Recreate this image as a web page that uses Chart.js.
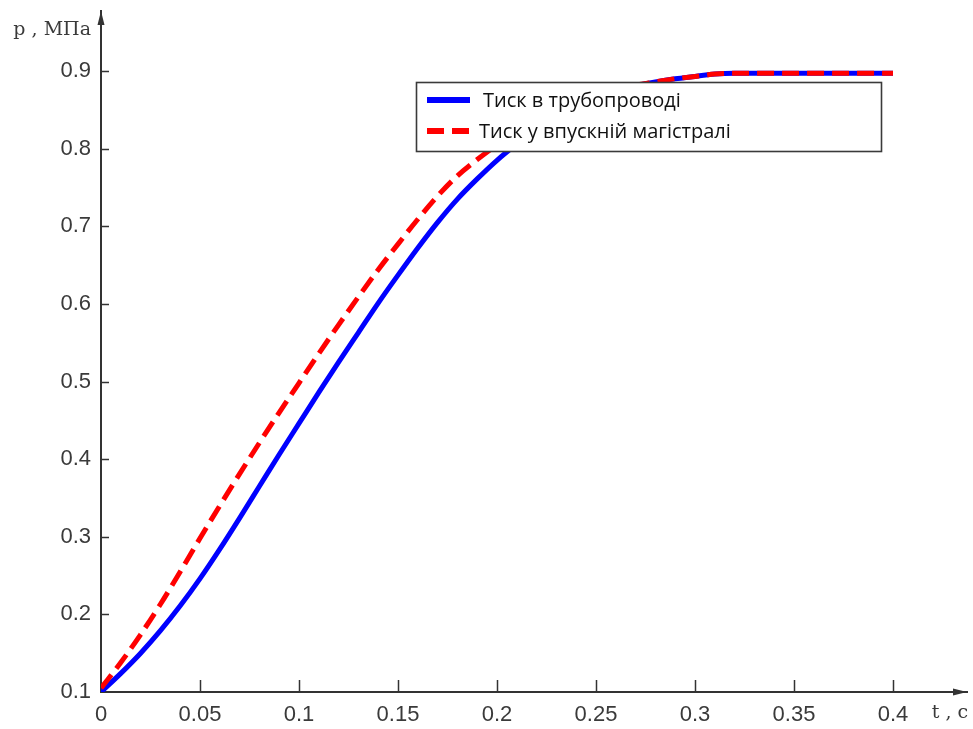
<!DOCTYPE html>
<html>
<head>
<meta charset="utf-8">
<script src="https://cdn.jsdelivr.net/npm/chart.js@4/dist/chart.umd.min.js"></script>
<style>
  html, body { margin: 0; padding: 0; background: #fff; }
  #wrap { width: 973px; height: 729px; position: relative; }
</style>
</head>
<body>
<div id="wrap"><canvas id="c" width="973" height="729"></canvas></div>
<script>
// ---- data ----
const timeValues = [0, 0.01, 0.02, 0.03, 0.04, 0.05, 0.06, 0.07, 0.08, 0.09, 0.10,
  0.11, 0.12, 0.13, 0.14, 0.15, 0.16, 0.17, 0.18, 0.19, 0.20,
  0.21, 0.22, 0.23, 0.24, 0.25, 0.26, 0.27, 0.28, 0.29, 0.30,
  0.31, 0.32, 0.33, 0.34, 0.35, 0.36, 0.37, 0.38, 0.39, 0.40];

const pipePressure = [0.100, 0.124, 0.150, 0.179, 0.211, 0.246, 0.284, 0.324, 0.365, 0.406, 0.446,
  0.486, 0.525, 0.563, 0.601, 0.637, 0.672, 0.705, 0.735, 0.761, 0.785,
  0.806, 0.825, 0.842, 0.856, 0.867, 0.875, 0.881, 0.886, 0.890, 0.893,
  0.896, 0.897, 0.897, 0.897, 0.897, 0.897, 0.897, 0.897, 0.897, 0.897];

const intakePressure = [0.105, 0.138, 0.174, 0.213, 0.255, 0.298, 0.340, 0.381, 0.421, 0.460, 0.498,
  0.536, 0.573, 0.609, 0.644, 0.677, 0.709, 0.739, 0.765, 0.786, 0.805,
  0.822, 0.837, 0.850, 0.861, 0.870, 0.877, 0.882, 0.886, 0.890, 0.893,
  0.896, 0.897, 0.897, 0.897, 0.897, 0.897, 0.897, 0.897, 0.897, 0.897];

const xTickValues = [0, 0.05, 0.1, 0.15, 0.2, 0.25, 0.3, 0.35, 0.4];
const xTickLabels = ['0', '0.05', '0.1', '0.15', '0.2', '0.25', '0.3', '0.35', '0.4'];
const yTickValues = [0.1, 0.2, 0.3, 0.4, 0.5, 0.6, 0.7, 0.8, 0.9];
const yTickLabels = ['0.1', '0.2', '0.3', '0.4', '0.5', '0.6', '0.7', '0.8', '0.9'];

const seriesNames = ['Тиск в трубопроводі', 'Тиск у впускній магістралі'];
const xAxisTitle = 't , с';
const yAxisTitle = 'p , МПа';

// axis extents (arrow tips) and title anchor positions, in data units
const xAxisEnd = 0.43737;
const xTitleAt = 0.42879;
const yAxisEnd = 0.9773;
const yTitleAt = 0.9528;

// ---- styling ----
const AXIS_COLOR = '#333333';
const TICK_TEXT = '#3a3a3a';
const BLUE = '#0000ff';
const RED = '#ff0000';

const toPoints = (vals) => timeValues.map((t, i) => ({ x: t, y: vals[i] }));

const axisDecor = {
  id: 'axisDecor',
  afterDraw(chart) {
    const { ctx, chartArea: a, scales: { x, y } } = chart;
    ctx.save();
    ctx.strokeStyle = AXIS_COLOR;
    ctx.fillStyle = AXIS_COLOR;
    ctx.lineWidth = 1.5;
    xTickValues.forEach(v => {
      if (v === 0) return;
      const px = Math.round(x.getPixelForValue(v)) + 0.5;
      ctx.beginPath();
      ctx.moveTo(px, a.bottom);
      ctx.lineTo(px, a.bottom - 12);
      ctx.stroke();
    });
    yTickValues.forEach(v => {
      if (v === 0.1) return;
      const py = Math.round(y.getPixelForValue(v)) + 0.5;
      ctx.beginPath();
      ctx.moveTo(a.left, py);
      ctx.lineTo(a.left + 8, py);
      ctx.stroke();
    });
    const xe = x.getPixelForValue(xAxisEnd);
    const yb = y.getPixelForValue(0.1);
    ctx.beginPath();
    ctx.moveTo(xe, yb);
    ctx.lineTo(xe - 14, yb - 3.5);
    ctx.lineTo(xe - 14, yb + 3.5);
    ctx.closePath();
    ctx.fill();
    const ye = y.getPixelForValue(yAxisEnd);
    const xl = x.getPixelForValue(0);
    ctx.beginPath();
    ctx.moveTo(xl, ye);
    ctx.lineTo(xl - 3.5, ye + 14);
    ctx.lineTo(xl + 3.5, ye + 14);
    ctx.closePath();
    ctx.fill();
    ctx.restore();
  }
};

const boxLegend = {
  id: 'boxLegend',
  afterDatasetsDraw(chart) {
    const { ctx } = chart;
    const bx = 416, by = 82, bw = 465, bh = 69;
    ctx.save();
    ctx.fillStyle = '#ffffff';
    ctx.fillRect(bx, by, bw, bh);
    ctx.strokeStyle = '#3a3a3a';
    ctx.lineWidth = 1.6;
    ctx.strokeRect(bx + 0.5, by + 0.5, bw, bh);
    const ds = chart.data.datasets;
    const rows = [100, 131];
    const textX = [483, 479];
    ctx.font = '20px "Open Sans", "Noto Sans", sans-serif';
    ctx.textBaseline = 'middle';
    ctx.textAlign = 'left';
    ds.forEach((d, i) => {
      ctx.beginPath();
      ctx.strokeStyle = d.borderColor;
      ctx.lineWidth = 6;
      ctx.setLineDash(d.borderDash || []);
      ctx.moveTo(427, rows[i]);
      ctx.lineTo(470, rows[i]);
      ctx.stroke();
      ctx.setLineDash([]);
      ctx.fillStyle = '#111111';
      ctx.fillText(d.label, textX[i], rows[i] + 1);
    });
    ctx.restore();
  }
};

new Chart(document.getElementById('c'), {
  type: 'line',
  data: {
    datasets: [
      {
        label: seriesNames[0],
        data: toPoints(pipePressure),
        borderColor: BLUE,
        borderWidth: 5,
        pointRadius: 0,
        cubicInterpolationMode: 'monotone',
        fill: false,
        order: 1
      },
      {
        label: seriesNames[1],
        data: toPoints(intakePressure),
        borderColor: RED,
        borderWidth: 5,
        borderDash: [17, 8],
        pointRadius: 0,
        cubicInterpolationMode: 'monotone',
        fill: false,
        order: 0
      }
    ]
  },
  options: {
    responsive: false,
    animation: false,
    events: [],
    layout: { padding: { left: 0, right: 6, top: 11, bottom: 0 } },
    plugins: { legend: { display: false }, tooltip: { enabled: false } },
    scales: {
      x: {
        type: 'linear',
        min: 0,
        max: xAxisEnd,
        afterBuildTicks(s) {
          s.ticks = xTickValues.map(v => ({ value: v })).concat([{ value: xTitleAt }]);
        },
        afterFit(s) { s.height = 37; s.paddingLeft = 0; s.paddingRight = 0; },
        grid: { display: false, drawTicks: false },
        border: { display: true, color: AXIS_COLOR, width: 2 },
        ticks: {
          autoSkip: false,
          maxRotation: 0,
          padding: 10,
          color: TICK_TEXT,
          font: (c) => (c.tick && c.tick.value > 0.41)
            ? { family: '"DejaVu Serif", serif', size: 19 }
            : { family: '"Liberation Sans", Arial, sans-serif', size: 22 },
          callback: (v) => {
            const i = xTickValues.indexOf(v);
            return i >= 0 ? xTickLabels[i] : xAxisTitle;
          }
        }
      },
      y: {
        type: 'linear',
        min: 0.1,
        max: yAxisEnd,
        afterBuildTicks(s) {
          s.ticks = yTickValues.map(v => ({ value: v })).concat([{ value: yTitleAt }]);
        },
        afterFit(s) { s.width = 101; s.paddingTop = 0; s.paddingBottom = 0; },
        grid: { display: false, drawTicks: false },
        border: { display: true, color: AXIS_COLOR, width: 2 },
        ticks: {
          autoSkip: false,
          padding: 10,
          color: TICK_TEXT,
          font: (c) => (c.tick && c.tick.value > 0.93)
            ? { family: '"DejaVu Serif", serif', size: 19 }
            : { family: '"Liberation Sans", Arial, sans-serif', size: 22 },
          callback: (v) => {
            const i = yTickValues.indexOf(v);
            return i >= 0 ? yTickLabels[i] : yAxisTitle;
          }
        }
      }
    }
  },
  plugins: [boxLegend, axisDecor]
});
</script>
</body>
</html>
